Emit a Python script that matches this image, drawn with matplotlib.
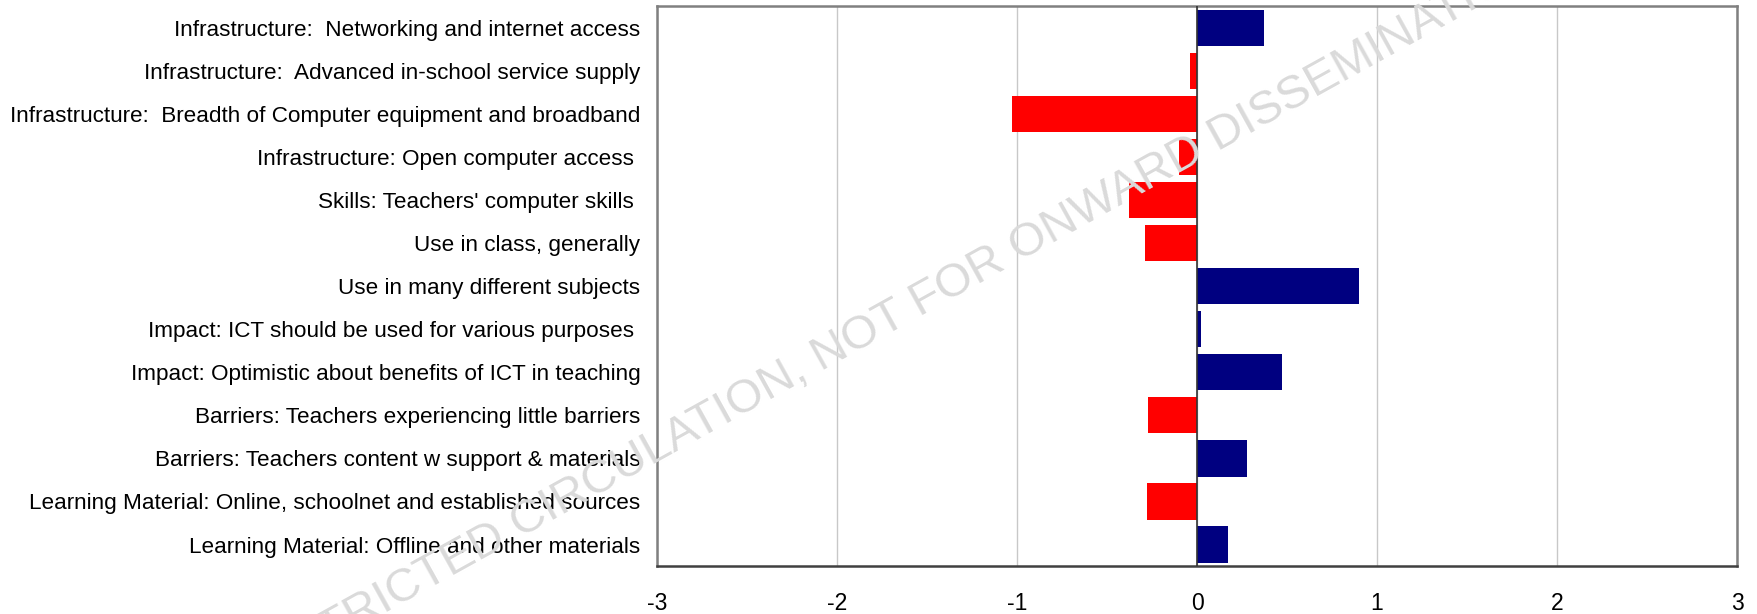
import matplotlib
matplotlib.use("Agg")
import matplotlib.pyplot as plt
from matplotlib import font_manager as fm

# fonts: prefer a narrow Arial-like face for the category names
names = {f.name for f in fm.fontManager.ttflist}
narrow = "Liberation Sans Narrow" in names
label_font = "Liberation Sans Narrow" if narrow else "Liberation Sans"
label_size = 18 if narrow else 16.2
plt.rcParams["font.family"] = ["Liberation Sans", "DejaVu Sans"]

categories = [
    "Infrastructure:  Networking and internet access",
    "Infrastructure:  Advanced in-school service supply",
    "Infrastructure:  Breadth of Computer equipment and broadband",
    "Infrastructure: Open computer access ",
    "Skills: Teachers' computer skills ",
    "Use in class, generally",
    "Use in many different subjects",
    "Impact: ICT should be used for various purposes ",
    "Impact: Optimistic about benefits of ICT in teaching",
    "Barriers: Teachers experiencing little barriers",
    "Barriers: Teachers content w support & materials",
    "Learning Material: Online, schoolnet and established sources",
    "Learning Material: Offline and other materials",
]
values = [0.37, -0.04, -1.03, -0.10, -0.38, -0.29, 0.90, 0.02, 0.47, -0.27, 0.28, -0.28, 0.17]
xticks = [-3, -2, -1, 0, 1, 2, 3]

W, H = 1757, 614
fig = plt.figure(figsize=(W / 100, H / 100), dpi=100)
ax = fig.add_axes([0.374, 0.078, 0.6146, 0.912])

ypos = list(range(len(categories)))
colors = ["#000080" if v >= 0 else "#FF0000" for v in values]
ax.barh(ypos, values, height=0.84, color=colors, zorder=3)

ax.set_xlim(-3, 3)
ax.set_ylim(len(categories) - 0.5, -0.5)
ax.set_xticks(xticks)
ax.set_xticklabels([str(t) for t in xticks], fontsize=16.5)
ax.set_yticks(ypos)
ax.set_yticklabels(categories, fontsize=label_size, family=[label_font, "DejaVu Sans"])
ax.tick_params(axis="x", length=0, pad=19)
ax.tick_params(axis="y", length=0, pad=12)

ax.grid(axis="x", color="#C8C8C8", linewidth=1, zorder=0)
ax.axvline(0, color="#333333", linewidth=1.2, zorder=4)

for side in ["left", "top", "right"]:
    ax.spines[side].set_color("#808080")
    ax.spines[side].set_linewidth(1.8)
ax.spines["bottom"].set_color("#404040")
ax.spines["bottom"].set_linewidth(1.8)

# watermark: baseline starts below the canvas, runs up to the right
wm_x, wm_y = 243, 692  # pixels from top-left
fig.text(wm_x / W, 1 - wm_y / H, "RESTRICTED CIRCULATION, NOT FOR ONWARD DISSEMINATION",
         fontsize=34.2, color="#DADADA", rotation=29, ha="left", va="baseline",
         rotation_mode="anchor", zorder=10)

fig.savefig("out.png", dpi=100)
